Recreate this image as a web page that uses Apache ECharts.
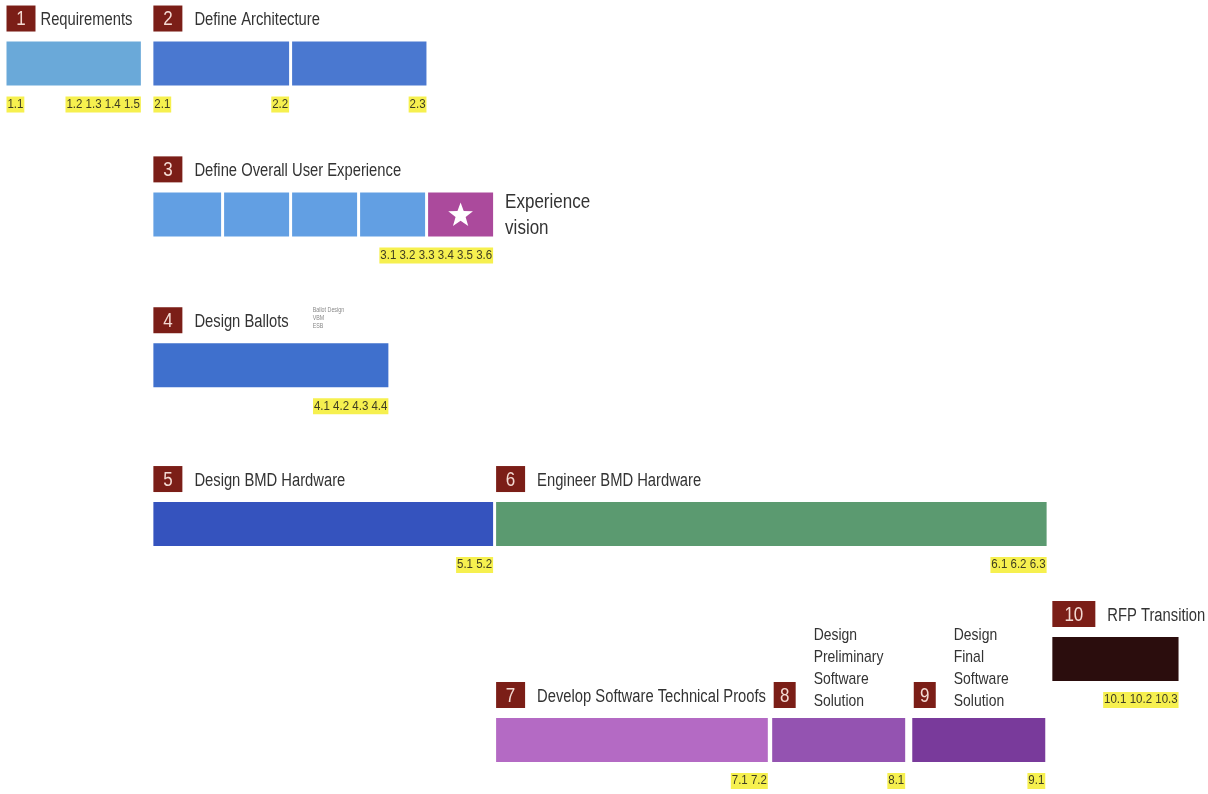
<!DOCTYPE html>
<html>
<head>
<meta charset="utf-8">
<title>Program phases</title>
<script src="https://cdn.jsdelivr.net/npm/echarts@6/dist/echarts.min.js"></script>
<style>
	html, body { margin: 0; padding: 0; background: #fff; }
	#chart { width: 1208px; height: 794px; }
</style>
</head>
<body>
<div id="chart"></div>
<script>
	// phases
	const taskNo = [1, 2, 3, 4, 5, 6, 7, 8, 9, 10];
	const taskTitle = [
		'Requirements',
		'Define Architecture',
		'Define Overall User Experience',
		'Design Ballots',
		'Design BMD Hardware',
		'Engineer BMD Hardware',
		'Develop Software Technical Proofs',
		'Design\nPreliminary\nSoftware\nSolution',
		'Design\nFinal\nSoftware\nSolution',
		'RFP Transition'
	];
	const taskLane = [8, 8, 27, 46, 66, 66, 93.2, 93.2, 93.2, 83];

	// bar segments (weeks from start)
	const segTask  = [1, 2, 2, 3, 3, 3, 3, 3, 4, 5, 6, 7, 8, 9, 10];
	const segStart = [0, 21.6, 42, 21.6, 32, 42, 52, 62, 21.6, 21.6, 72, 72, 112.6, 133.2, 153.8];
	const segEnd   = [20.2, 42, 62.2, 32, 42, 52, 62, 72, 56.6, 72, 153.4, 112.4, 132.6, 153.2, 172.8];
	const visionSeg = 7;   // the star segment of phase 3
	const visionText = 'Experience\nvision';
	const ballotNote = 'Ballot Design\nVBM\nESB';

	// milestone tags under the bars
	const msText = ['1.1', '1.2 1.3 1.4 1.5', '2.1', '2.2', '2.3', '3.1 3.2 3.3 3.4 3.5 3.6', '4.1 4.2 4.3 4.4',
		'5.1 5.2', '6.1 6.2 6.3', '7.1 7.2', '8.1', '9.1', '10.1 10.2 10.3'];
	const msTask = [1, 1, 2, 2, 2, 3, 4, 5, 6, 7, 8, 9, 10];
	const msAt   = [0, 20.2, 21.6, 42, 62.2, 72, 56.6, 72, 153.4, 112.4, 132.6, 153.2, 172.8];
	const msSide = ['start', 'end', 'start', 'end', 'end', 'end', 'end', 'end', 'end', 'end', 'end', 'end', 'end'];

	// styles
	const FONT = '"Liberation Sans", Arial, sans-serif';
	const NARROW = 0.82;   // condensed look of the original lettering
	const BAR_H = 44, GAP = 1.5;
	const taskColor = {
		1: '#6aa9d9', 2: '#4a78d0', 3: '#629fe3', 4: '#3f70cd', 5: '#3553be',
		6: '#5b9a70', 7: '#b46ac4', 8: '#9453b1', 9: '#793a9b', 10: '#2b0d0d'
	};
	const visionColor = '#ab4a9c';

	const measure = document.createElement('canvas').getContext('2d');
	function textWidth(str, size) {
		measure.font = size + 'px ' + FONT;
		return measure.measureText(str).width;
	}

	// narrow text element: placed at (x, y) then squeezed horizontally
	function narrowText(x, y, style, sx) {
		return {
			type: 'text', x: x, y: y, scaleX: sx || NARROW,
			style: Object.assign({ x: 0, y: 0, fontFamily: FONT }, style)
		};
	}

	function starPoints(cx, cy, R, r) {
		const pts = [];
		for (let k = 0; k < 10; k++) {
			const a = -Math.PI / 2 + k * Math.PI / 5;
			const rad = k % 2 ? r : R;
			pts.push([cx + rad * Math.cos(a), cy + rad * Math.sin(a)]);
		}
		return pts;
	}

	function renderSeg(params, api) {
		const i = params.dataIndex;
		const a = api.coord([api.value(0), api.value(2)]);
		const b = api.coord([api.value(1), api.value(2)]);
		const x0 = a[0] + GAP, x1 = b[0] - GAP, y0 = a[1] - BAR_H / 2;
		const children = [{
			type: 'rect',
			shape: { x: x0, y: y0, width: x1 - x0, height: BAR_H },
			style: { fill: i === visionSeg ? visionColor : taskColor[api.value(3)] }
		}];
		if (i === visionSeg) {
			children.push({
				type: 'polygon',
				shape: { points: starPoints((x0 + x1) / 2, a[1] + 1, 13, 5.3) },
				style: { fill: '#ffffff' }
			});
			children.push(narrowText(x1 + 12, a[1] + 1, {
				text: visionText, fontSize: 20, lineHeight: 26, fill: '#333',
				align: 'left', verticalAlign: 'middle'
			}, 0.85));
		}
		return { type: 'group', children: children };
	}

	function renderHead(params, api) {
		const idx = api.value(2);
		const p = api.coord([api.value(0), api.value(1)]);
		const num = String(taskNo[idx]);
		const multi = taskTitle[idx].indexOf('\n') >= 0;
		const boxW = num.length > 1 ? 43 : (multi ? 22 : 29);
		const boxH = 26;
		const bx = p[0] + (multi ? 3 : 1.5);
		const by = p[1] - BAR_H / 2 - 10 - boxH;
		const tx = bx + boxW + (multi ? 18 : (idx === 0 ? 5 : 12));
		const children = [
			{ type: 'rect', shape: { x: bx, y: by, width: boxW, height: boxH }, style: { fill: '#7b1e17' } },
			narrowText(bx + boxW / 2, by + boxH / 2 + 1, {
				text: num, fontSize: 20, fill: '#f4dad3', align: 'center', verticalAlign: 'middle'
			}, 0.85),
			narrowText(tx, multi ? by + boxH + 4 : by + boxH / 2 + 2, {
				text: taskTitle[idx], fontSize: multi ? 17 : 18, lineHeight: 22, fill: '#333',
				align: 'left', verticalAlign: multi ? 'bottom' : 'middle'
			})
		];
		if (taskNo[idx] === 4) {
			children.push(narrowText(tx + textWidth(taskTitle[idx], 18) * NARROW + 24, by - 1, {
				text: ballotNote, fontSize: 6.5, lineHeight: 8, fill: '#888',
				align: 'left', verticalAlign: 'top'
			}));
		}
		return { type: 'group', children: children };
	}

	function renderMs(params, api) {
		const idx = api.value(2);
		const p = api.coord([api.value(0), api.value(1)]);
		const end = msSide[idx] === 'end';
		return narrowText(end ? p[0] - GAP : p[0] + GAP, p[1] + BAR_H / 2 + 19, {
			text: msText[idx], fontSize: 12.5, fill: '#3e3c22',
			backgroundColor: '#f6f04f', padding: [2, 1, 1, 1],
			align: end ? 'right' : 'left', verticalAlign: 'middle'
		}, 0.92);
	}

	const segData = segStart.map((s, i) => [s, segEnd[i], taskLane[segTask[i] - 1], segTask[i]]);
	const headData = taskNo.map((n, i) => {
		const first = segTask.indexOf(n);
		return [segStart[first], taskLane[i], i];
	});
	const msData = msText.map((t, i) => [msAt[i], taskLane[msTask[i] - 1], i]);

	const chart = echarts.init(document.getElementById('chart'));
	chart.setOption({
		animation: false,
		backgroundColor: '#ffffff',
		grid: { left: 5, right: 6.2, top: 0, bottom: 0 },
		xAxis: { type: 'value', min: 0, max: 176, show: false },
		yAxis: { type: 'value', min: 0, max: 100, inverse: true, show: false },
		series: [
			{ type: 'custom', renderItem: renderSeg, data: segData, encode: { x: [0, 1], y: 2 } },
			{ type: 'custom', renderItem: renderHead, data: headData, encode: { x: 0, y: 1 } },
			{ type: 'custom', renderItem: renderMs, data: msData, encode: { x: 0, y: 1 } }
		]
	});
</script>
</body>
</html>
